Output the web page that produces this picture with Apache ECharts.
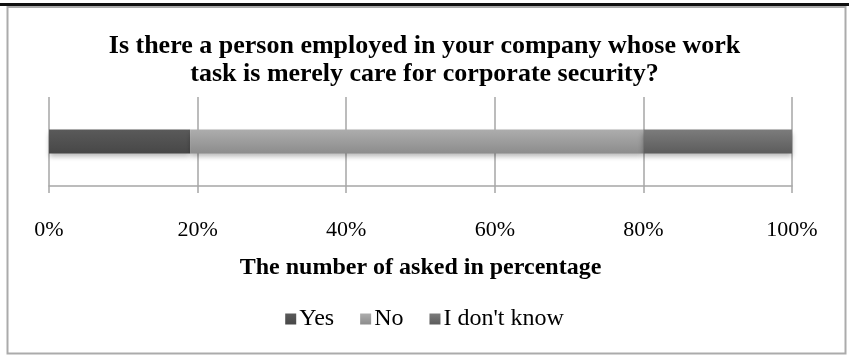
<!DOCTYPE html>
<html>
<head>
<meta charset="utf-8">
<script src="https://cdn.jsdelivr.net/npm/echarts@6/dist/echarts.min.js"></script>
<style>
  html, body { margin: 0; padding: 0; background: #fff; }
  #chart { width: 849px; height: 355px; }
</style>
</head>
<body>
<div id="chart"></div>
<script>
// Survey answers, share of respondents (%)
const categories = [''];
const seriesNames = ['Yes', 'No', "I don't know"];
const yesValues = [19];
const noValues = [61];
const dontKnowValues = [20];
const tickValues = [0, 20, 40, 60, 80, 100];

const serif = '"Liberation Serif", "Times New Roman", serif';

function shade(top, bottom) {
  return new echarts.graphic.LinearGradient(0, 0, 0, 1, [
    { offset: 0, color: top },
    { offset: 1, color: bottom }
  ]);
}

const barStyle = (top, bottom) => ({
  color: shade(top, bottom),
  shadowColor: 'rgba(0,0,0,0.28)',
  shadowBlur: 5,
  shadowOffsetY: 3
});

const chart = echarts.init(document.getElementById('chart'), null, { renderer: 'canvas' });

chart.setOption({
  animation: false,
  backgroundColor: '#ffffff',
  title: {
    text: 'Is there a person employed in your company whose work\ntask is merely care for corporate security?',
    left: 'center',
    top: 27,
    textStyle: {
      fontFamily: serif,
      fontWeight: 'bold',
      fontSize: 26,
      lineHeight: 28,
      color: '#000'
    }
  },
  graphic: [
    { type: 'rect', shape: { x: 0, y: 3, width: 849, height: 3 }, style: { fill: '#111' }, silent: true },
    { type: 'rect', shape: { x: 7.5, y: 7, width: 838, height: 346.5 }, style: { fill: 'none', stroke: '#ababab', lineWidth: 2 }, silent: true }
  ],
  legend: {
    data: seriesNames,
    top: 302,
    left: 'center',
    itemWidth: 11,
    itemHeight: 11,
    itemGap: 26,
    icon: 'rect',
    textStyle: { fontFamily: serif, fontSize: 24, color: '#000', padding: [0, 0, 0, -2] }
  },
  grid: { left: 49, right: 57, top: 97, bottom: 169 },
  xAxis: {
    type: 'value',
    min: 0,
    max: 100,
    interval: 20,
    name: 'The number of asked in percentage',
    nameLocation: 'middle',
    nameGap: 70,
    nameTextStyle: { fontFamily: serif, fontWeight: 'bold', fontSize: 24, color: '#000' },
    axisLine: { show: true, lineStyle: { color: '#a6a6a6', width: 1.5 } },
    axisTick: { show: true, length: 7, lineStyle: { color: '#a6a6a6', width: 1.5 } },
    splitLine: { show: true, lineStyle: { color: '#a6a6a6', width: 1.5 } },
    axisLabel: {
      margin: 33,
      fontFamily: serif,
      fontSize: 22,
      color: '#000',
      formatter: v => tickValues.includes(v) ? v + '%' : ''
    }
  },
  yAxis: {
    type: 'category',
    data: categories,
    axisLine: { show: false },
    axisTick: { show: false },
    axisLabel: { show: false }
  },
  series: [
    { name: seriesNames[0], type: 'bar', stack: 'total', barWidth: 24, data: yesValues, itemStyle: barStyle('#5a5a5a', '#474747') },
    { name: seriesNames[1], type: 'bar', stack: 'total', barWidth: 24, data: noValues, itemStyle: barStyle('#adadad', '#8c8c8c') },
    { name: seriesNames[2], type: 'bar', stack: 'total', barWidth: 24, data: dontKnowValues, itemStyle: barStyle('#7c7c7c', '#5c5c5c') }
  ]
});
</script>
</body>
</html>
